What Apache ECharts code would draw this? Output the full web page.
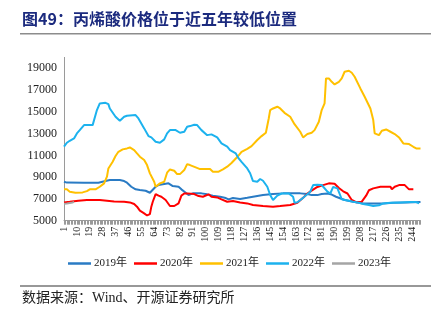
<!DOCTYPE html>
<html><head><meta charset="utf-8">
<script src="https://cdn.jsdelivr.net/npm/echarts@6/dist/echarts.min.js"></script>
<style>html,body{margin:0;padding:0;background:#fff}#c{width:441px;height:322px}</style>
</head><body><div id="c"></div>
<script>
// Category (day index) labels 1..250
const categories = [];
for (let i = 1; i <= 250; i++) categories.push(String(i));

const seriesNames = ['2019年', '2020年', '2021年', '2022年', '2023年'];

const x2019 = [1,3,15,25,30,33,40,43,45,48,51,54,58,61,62,65,67,70,74,75,77,81,83,86,88,91,97,101,105,110,114,116,119,124,129,133,140,147,154,166,171,174,178,181,185,188,191,197,203,210,217,224,231,240,250];
const y2019 = [8580,8500,8490,8490,8640,8730,8730,8640,8490,8120,7880,7820,7750,7570,7660,8120,8270,8340,8430,8430,8180,8120,7880,7570,7360,7510,7510,7420,7300,7200,7080,6960,7080,6990,7100,7200,7360,7450,7510,7510,7450,7350,7350,7450,7500,7400,7200,6900,6740,6590,6590,6590,6650,6680,6710];

const x2020 = [1,5,11,17,26,31,36,43,47,50,52,54,57,59,61,62,63,65,67,69,72,75,78,81,83,85,87,92,95,98,102,104,108,111,115,119,124,129,133,140,147,152,159,164,168,171,175,178,182,186,190,193,196,199,202,205,209,212,214,217,222,229,230,232,235,239,242,245];
const y2020 = [6680,6740,6840,6900,6900,6840,6770,6740,6680,6530,6290,5920,5670,5480,5610,6290,6740,7450,7300,7200,6900,6350,6350,6600,7300,7500,7510,7450,7260,7200,7420,7200,7140,6960,6740,6800,6680,6590,6440,6350,6290,6350,6440,6650,7100,7500,7850,8100,8270,8430,8400,8000,7700,7500,6900,6700,6750,7300,7800,7970,8120,8120,7880,8120,8270,8270,7880,7880];

const x2021 = [1,3,5,9,14,17,19,23,26,29,31,32,35,37,39,42,45,47,50,52,54,57,59,61,64,65,66,68,71,73,75,78,80,82,85,87,89,93,96,103,105,109,112,115,118,122,125,129,132,136,139,142,144,145,147,150,152,155,159,162,166,168,171,174,176,179,181,183,184,186,188,190,193,195,197,200,202,204,208,211,215,217,218,221,223,226,229,232,235,238,242,245,247,250];
const y2021 = [7900,7880,7660,7570,7600,7720,7880,7880,8120,8430,9040,9800,10420,10940,11330,11550,11640,11730,11490,11180,10880,10570,10110,9350,8580,8120,8270,8430,8580,9410,9710,9590,9280,9280,9650,10200,10110,9900,9740,9740,9500,9500,9710,9960,10300,10850,11330,11600,11850,12410,12770,13080,14390,15160,15310,15470,15310,14910,14550,13870,13170,12650,12960,13080,13320,14090,15160,15770,18070,18070,17760,17520,17760,18070,18680,18770,18590,18220,17150,16380,15310,14240,13020,12860,13260,13380,13170,12960,12650,12100,12040,11790,11640,11640];

const x2022 = [1,3,5,8,10,12,15,21,22,24,26,30,32,33,37,40,43,45,51,53,57,60,62,65,68,71,73,75,79,82,85,87,89,92,94,97,101,104,108,111,115,117,121,123,125,129,131,133,136,138,140,143,145,147,150,153,158,161,162,164,168,173,175,178,181,185,187,189,192,195,200,203,207,210,214,217,221,224,229,236,243,247,249];
const y2022 = [11800,12160,12340,12560,13020,13320,13780,13780,13930,15160,15770,15830,15710,15310,14550,14180,14550,14640,14700,14390,13480,12770,12650,12250,12160,12470,13020,13320,13320,13080,13170,13630,13690,13810,13780,13320,12860,12930,12650,12100,11800,11490,11180,10720,10400,9800,9360,8640,8580,8830,8670,8120,7360,6900,7300,7500,7500,7200,6650,6700,7100,7660,8270,8300,8280,7670,7500,8100,7970,6970,6840,6740,6650,6530,6440,6350,6410,6590,6650,6680,6710,6710,6590];

const x2023 = [1,3,5,7,8];
const y2023 = [6550,6580,6620,6680,6720];

const colors = ['#2a7bc4', '#ff0000', '#ffc000', '#1cb2ee', '#a5a5a5'];

function pairs(xs, ys) { return xs.map((x, i) => [String(x), ys[i]]); }
const allData = [pairs(x2019,y2019), pairs(x2020,y2020), pairs(x2021,y2021), pairs(x2022,y2022), pairs(x2023,y2023)];

const chart = echarts.init(document.getElementById('c'), null, {renderer: 'canvas'});
chart.setOption({
  animation: false,
  backgroundColor: '#fff',
  grid: {left: 64, right: 20.5, top: 57.4, bottom: 101.3, containLabel: false},
  graphic: [
    {type: 'text', left: 22, top: 11, style: {text: '图49：丙烯酸价格位于近五年较低位置', fill: '#1b2a7e', font: 'bold 16px "Noto Sans CJK SC"'}},
    {type: 'rect', shape: {x: 20, y: 33, width: 411, height: 1.5}, style: {fill: '#8c8c8c'}},
    {type: 'rect', shape: {x: 20, y: 285.5, width: 411, height: 1}, style: {fill: '#333'}},
    {type: 'text', left: 22, top: 291, style: {text: '数据来源：Wind、开源证券研究所', fill: '#222', font: '14px "Liberation Serif", "Noto Sans CJK SC"'}}
  ],
  legend: {
    data: seriesNames, left: 63, top: 253, itemWidth: 23, itemHeight: 2.5, itemGap: 7, icon: 'rect',
    textStyle: {fontSize: 11, color: '#222', fontFamily: '"Liberation Serif", "Noto Sans CJK SC"', padding: [0,0,0,-2]}
  },
  xAxis: {
    type: 'category', data: categories, boundaryGap: false,
    axisLine: {lineStyle: {color: '#9a9a9a', width: 1}},
    axisTick: {show: true, interval: 0, length: 4, lineStyle: {color: '#9a9a9a'}},
    axisLabel: {interval: 8, rotate: 90, fontSize: 10, color: '#222', margin: 6, fontFamily: '"Liberation Serif"'},
    splitLine: {show: false}
  },
  yAxis: {
    type: 'value', min: 5000, max: 20000, interval: 2000,
    axisLine: {show: true, lineStyle: {color: '#9a9a9a'}},
    axisTick: {show: false},
    splitLine: {show: false},
    axisLabel: {showMaxLabel: false, fontSize: 12, color: '#222', margin: 7, fontFamily: '"Liberation Serif"', formatter: v => String(v)}
  },
  series: seriesNames.map((n, i) => ({
    name: n, type: 'line', data: allData[i], symbol: 'none', showSymbol: false,
    itemStyle: {color: colors[i]}, lineStyle: {color: colors[i], width: 2}, z: [2,3,4,5,6][i]
  }))
});
</script></body></html>
